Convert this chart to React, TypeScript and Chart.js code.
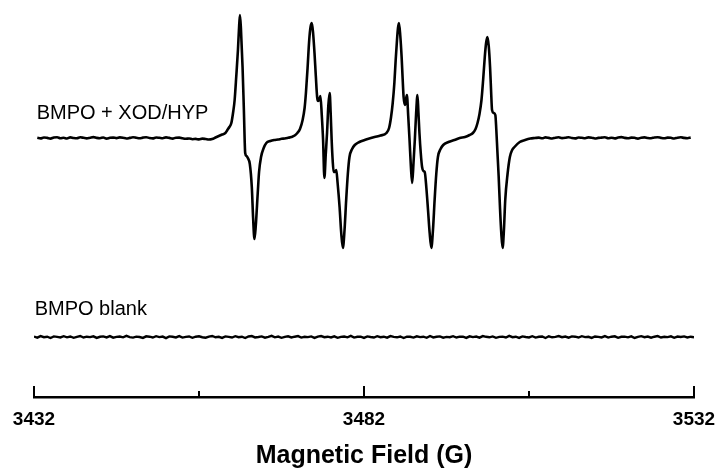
import React, { useEffect, useRef } from 'react';
import { Chart, registerables } from 'chart.js';

Chart.register(...registerables);

const FONT = 'Arial, "Liberation Sans", Helvetica, sans-serif';

// x axis ticks
const tickValues = [3432, 3457, 3482, 3507, 3532];
const tickLabels = ['3432', '', '3482', '', '3532'];
const axisTitle = 'Magnetic Field (G)';

// trace labels
const upperLabel = 'BMPO + XOD/HYP';
const blankLabel = 'BMPO blank';

// vertical stacking offsets of the two spectra (arbitrary units)
const upperOffset = 259;
const blankOffset = 60;

// ---- BMPO + XOD/HYP spectrum ----
const leftWingField = [
  3432.5, 3433, 3433.5, 3434, 3434.5, 3435, 3435.5, 3436, 3436.5, 3437,
  3437.5, 3438, 3438.5, 3439, 3439.5, 3440, 3440.5, 3441, 3441.5, 3442,
  3442.5, 3443, 3443.5, 3444, 3444.5, 3445, 3445.5, 3446, 3446.5, 3447,
  3447.5, 3448, 3448.5, 3449, 3449.5, 3450, 3450.5, 3451, 3451.5, 3452,
  3452.5, 3453, 3453.5, 3454, 3454.5, 3455, 3455.5, 3456, 3456.5, 3457,
  3457.5,
];
const leftWingSignal = [
  0.3, -0.4, 0.5, 0.1, -0.6, 0.4, 0.8, -0.2, 0.2, -0.5,
  0.6, 0.0, -0.3, 0.7, 0.2, -0.4, 0.3, 0.9, 0.1, -0.2,
  0.5, -0.6, 0.2, 0.4, -0.1, 0.6, 0.3, -0.5, 0.1, 0.7,
  0.2, -0.3, 0.4, 0.8, 0.0, -0.4, 0.5, 0.2, -0.2, 0.6,
  0.1, -0.6, 0.3, 0.4, -0.3, -0.8, -0.5, -1.2, -0.9, -1.4,
  -0.6,
];

const g1Field = [
  3458.0, 3458.5, 3459.0, 3459.5, 3460.0, 3460.5, 3461.0, 3461.3, 3461.6, 3461.9,
  3462.2, 3462.4, 3462.65, 3462.9, 3463.05, 3463.2, 3463.35, 3463.6, 3463.8, 3464.0,
  3464.2, 3464.4, 3464.7, 3465.0, 3465.2, 3465.4, 3465.6, 3465.9, 3466.1, 3466.4,
  3466.8, 3467.2, 3467.8, 3468.4, 3469.0, 3469.5, 3470.0,
];
const g1Signal = [
  -1.0, -1.5, -1.0, 0.5, 2.0, 3.5, 5.0, 8, 11, 15,
  27, 38, 62, 88, 108, 123, 110, 71, 28, -15,
  -18, -20, -26, -49, -80, -101, -88, -55, -34, -19,
  -10, -5, -3, -2, -1.5, -0.8, -0.5,
];

const g2Field = [
  3470.5, 3471.0, 3471.5, 3471.9, 3472.3, 3472.7, 3473.0, 3473.2, 3473.45, 3473.7,
  3473.9, 3474.1, 3474.3, 3474.5, 3474.7, 3474.9, 3475.05, 3475.2, 3475.4, 3475.6,
  3475.8, 3476.0, 3476.2, 3476.4, 3476.6, 3476.8, 3476.95, 3477.1, 3477.25, 3477.4,
  3477.6, 3477.8, 3478.0, 3478.3, 3478.55, 3478.8, 3479.05, 3479.3, 3479.55, 3479.8,
  3480.2, 3480.6, 3481.3, 3482.1, 3482.8,
];
const g2Signal = [
  0.2, 1.0, 2.5, 5, 9, 18, 30, 45, 70, 98,
  111, 115, 104, 85, 62, 41, 37, 38, 42, 23,
  -2, -40, -17, 5, 33, 45, 25, -2, -22, -34,
  -34, -32, -45, -69, -95, -110, -92, -62, -36, -19,
  -11, -7, -4, -2, -0.5,
];

const g3Field = [
  3483.6, 3484.5, 3485.4, 3485.8, 3486.1, 3486.35, 3486.6, 3486.8, 3487.0, 3487.15,
  3487.3, 3487.5, 3487.7, 3487.85, 3488.0, 3488.2, 3488.35, 3488.5, 3488.7, 3488.9,
  3489.1, 3489.3, 3489.5, 3489.7, 3489.9, 3490.1, 3490.25, 3490.4, 3490.6, 3490.8,
  3491.0, 3491.2, 3491.45, 3491.7, 3491.95, 3492.2, 3492.45, 3492.7, 3492.95, 3493.2,
  3493.6, 3494.0, 3494.8, 3495.7, 3496.5,
];
const g3Signal = [
  1, 2.5, 5, 10, 21, 35, 55, 78, 98, 110,
  115, 102, 81, 60, 41, 33, 38, 43, 22, -2,
  -28, -45, -25, -2, 25, 43, 25, 5, -15, -29,
  -33, -34, -50, -72, -95, -110, -92, -62, -36, -19,
  -11, -7, -4, -2, 0,
];

const g4Field = [
  3497.3, 3498.0, 3498.5, 3498.9, 3499.2, 3499.5, 3499.8, 3500.05, 3500.3, 3500.5,
  3500.7, 3500.9, 3501.1, 3501.25, 3501.4, 3501.65, 3501.9, 3502.05, 3502.2, 3502.4,
  3502.6, 3502.8, 3503.0, 3503.2, 3503.4, 3503.75, 3504.1, 3504.45, 3504.8, 3505.6,
  3506.4, 3507.2, 3507.9,
];
const g4Signal = [
  1, 3, 5, 9, 15, 24, 38, 58, 81, 95,
  101, 92, 71, 48, 28, 25, 23, 8, -12, -38,
  -69, -95, -110, -92, -62, -36, -19, -12, -9, -4,
  -2, -0.5, 0,
];

const rightWingField = [
  3508.5, 3509, 3509.5, 3510, 3510.5, 3511, 3511.5, 3512, 3512.5, 3513,
  3513.5, 3514, 3514.5, 3515, 3515.5, 3516, 3516.5, 3517, 3517.5, 3518,
  3518.5, 3519, 3519.5, 3520, 3520.5, 3521, 3521.5, 3522, 3522.5, 3523,
  3523.5, 3524, 3524.5, 3525, 3525.5, 3526, 3526.5, 3527, 3527.5, 3528,
  3528.5, 3529, 3529.5, 3530, 3530.5, 3531, 3531.5,
];
const rightWingSignal = [
  0.4, -0.3, 0.6, 0.1, -0.5, 0.3, 0.7, -0.1, 0.2, 0.8,
  0.0, -0.4, 0.5, 0.2, -0.2, 0.6, 0.3, -0.5, 0.1, 0.4,
  0.7, -0.2, 0.3, -0.4, 0.5, 0.9, 0.1, -0.3, 0.4, 0.2,
  -0.6, 0.3, 0.6, 0.0, -0.2, 0.5, 0.8, 0.1, -0.3, 0.4,
  0.2, -0.5, 0.3, 0.7, 0.1, -0.2, 0.4,
];

// ---- BMPO blank ----
const blankField = [
  3432, 3432.5, 3433, 3433.5, 3434, 3434.5, 3435, 3435.5, 3436, 3436.5,
  3437, 3437.5, 3438, 3438.5, 3439, 3439.5, 3440, 3440.5, 3441, 3441.5,
  3442, 3442.5, 3443, 3443.5, 3444, 3444.5, 3445, 3445.5, 3446, 3446.5,
  3447, 3447.5, 3448, 3448.5, 3449, 3449.5, 3450, 3450.5, 3451, 3451.5,
  3452, 3452.5, 3453, 3453.5, 3454, 3454.5, 3455, 3455.5, 3456, 3456.5,
  3457, 3457.5, 3458, 3458.5, 3459, 3459.5, 3460, 3460.5, 3461, 3461.5,
  3462, 3462.5, 3463, 3463.5, 3464, 3464.5, 3465, 3465.5, 3466, 3466.5,
  3467, 3467.5, 3468, 3468.5, 3469, 3469.5, 3470, 3470.5, 3471, 3471.5,
  3472, 3472.5, 3473, 3473.5, 3474, 3474.5, 3475, 3475.5, 3476, 3476.5,
  3477, 3477.5, 3478, 3478.5, 3479, 3479.5, 3480, 3480.5, 3481, 3481.5,
  3482, 3482.5, 3483, 3483.5, 3484, 3484.5, 3485, 3485.5, 3486, 3486.5,
  3487, 3487.5, 3488, 3488.5, 3489, 3489.5, 3490, 3490.5, 3491, 3491.5,
  3492, 3492.5, 3493, 3493.5, 3494, 3494.5, 3495, 3495.5, 3496, 3496.5,
  3497, 3497.5, 3498, 3498.5, 3499, 3499.5, 3500, 3500.5, 3501, 3501.5,
  3502, 3502.5, 3503, 3503.5, 3504, 3504.5, 3505, 3505.5, 3506, 3506.5,
  3507, 3507.5, 3508, 3508.5, 3509, 3509.5, 3510, 3510.5, 3511, 3511.5,
  3512, 3512.5, 3513, 3513.5, 3514, 3514.5, 3515, 3515.5, 3516, 3516.5,
  3517, 3517.5, 3518, 3518.5, 3519, 3519.5, 3520, 3520.5, 3521, 3521.5,
  3522, 3522.5, 3523, 3523.5, 3524, 3524.5, 3525, 3525.5, 3526, 3526.5,
  3527, 3527.5, 3528, 3528.5, 3529, 3529.5, 3530, 3530.5, 3531, 3531.5,
  3532,
];
const blankSignal = [
  0.4, -0.6, 0.9, -0.2, 0.3, -1.0, 0.6, 0.1, -0.4, 0.8,
  -0.3, 0.5, -0.8, 0.2, 1.0, -0.5, 0.3, -0.1, 0.7, -0.9,
  0.2, 0.6, -0.4, 0.9, -0.7, 0.1, 0.5, -0.3, 1.1, -0.2,
  -0.6, 0.4, 0.0, -0.9, 0.7, 0.3, -0.5, 0.8, -0.1, 0.4,
  -1.1, 0.6, 0.2, -0.4, 0.9, -0.6, 0.1, 0.5, -0.8, 0.3,
  0.7, -0.2, -0.7, 0.4, 1.0, -0.3, 0.2, -0.9, 0.6, 0.1,
  -0.5, 0.8, -0.2, 0.3, -1.0, 0.5, 0.9, -0.4, 0.0, 0.6,
  -0.7, 0.2, 1.2, -0.3, 0.4, -0.8, 0.1, 0.7, -0.5, 0.3,
  0.9, -0.6, 0.2, -0.1, 0.6, -0.9, 0.4, 1.0, -0.2, 0.3,
  -0.4, 0.7, -0.8, 0.1, 0.5, -0.3, 1.1, -0.6, 0.2, 0.4,
  -0.9, 0.6, 0.0, -0.5, 0.8, -0.2, 0.3, -0.7, 0.9, 0.1,
  -0.3, 0.5, -1.0, 0.4, 0.2, -0.6, 0.7, -0.1, 0.3, -0.8,
  1.0, -0.4, 0.2, 0.6, -0.7, 0.1, -0.2, 0.8, -0.5, 0.4,
  0.3, -0.9, 0.7, -0.1, 0.5, -0.6, 0.9, 0.2, -0.3, 0.6,
  -0.8, 0.1, 0.4, -0.5, 1.1, -0.2, 0.3, -0.9, 0.6, 0.0,
  -0.4, 0.8, -0.6, 0.2, 0.5, -1.0, 0.7, -0.3, 0.1, 0.9,
  -0.2, 0.4, -0.7, 0.6, 0.3, -0.5, 0.8, -0.1, 0.2, -0.9,
  0.5, 0.1, -0.4, 0.9, -0.6, 0.3, 0.7, -0.8, 0.2, 0.4,
  -0.3, 0.6, -1.0, 0.1, 0.8, -0.2, 0.5, -0.7, 0.3, 0.9,
  -0.5, 0.2, -0.1, 0.7, -0.8, 0.4, 0.0, 0.6, -0.4, 0.3,
  -0.2,
];

function toPoints(fields: number[], signals: number[], offset: number) {
  const n = Math.min(fields.length, signals.length);
  const pts: { x: number; y: number }[] = [];
  for (let i = 0; i < n; i++) pts.push({ x: fields[i], y: signals[i] + offset });
  return pts;
}

const insideTicksPlugin = {
  id: 'insideTicks',
  afterDraw(chart: any) {
    const xs = chart.scales.x;
    const ctx = chart.ctx;
    const yAxis = chart.chartArea.bottom;
    ctx.save();
    ctx.strokeStyle = '#000';
    ctx.lineWidth = 2;
    tickValues.forEach((v, i) => {
      const px = Math.round(xs.getPixelForValue(v));
      const len = tickLabels[i] ? 11 : 6;
      ctx.beginPath();
      ctx.moveTo(px, yAxis);
      ctx.lineTo(px, yAxis - len);
      ctx.stroke();
    });
    ctx.restore();
  },
};

const traceLabelPlugin = {
  id: 'traceLabels',
  afterDraw(chart: any) {
    const xs = chart.scales.x;
    const ys = chart.scales.y;
    const ctx = chart.ctx;
    ctx.save();
    ctx.fillStyle = '#000';
    ctx.font = `20px ${FONT}`;
    ctx.textAlign = 'left';
    ctx.textBaseline = 'alphabetic';
    ctx.fillText(upperLabel, xs.getPixelForValue(3432.4), ys.getPixelForValue(upperOffset + 19));
    ctx.fillText(blankLabel, xs.getPixelForValue(3432.1), ys.getPixelForValue(blankOffset + 22));
    ctx.restore();
  },
};

export default function App() {
  const ref = useRef<HTMLCanvasElement | null>(null);

  useEffect(() => {
    if (!ref.current) return;
    const upperField = [...leftWingField, ...g1Field, ...g2Field, ...g3Field, ...g4Field, ...rightWingField];
    const upperSignal = [...leftWingSignal, ...g1Signal, ...g2Signal, ...g3Signal, ...g4Signal, ...rightWingSignal];

    const chart = new Chart(ref.current, {
      type: 'line',
      data: {
        datasets: [
          {
            label: upperLabel,
            data: toPoints(upperField, upperSignal, upperOffset),
            borderColor: '#000',
            borderWidth: 2.6,
            pointRadius: 0,
            cubicInterpolationMode: 'monotone',
            fill: false,
          },
          {
            label: blankLabel,
            data: toPoints(blankField, blankSignal, blankOffset),
            borderColor: '#000',
            borderWidth: 2.4,
            pointRadius: 0,
            tension: 0,
            fill: false,
          },
        ],
      },
      options: {
        animation: false,
        responsive: false,
        devicePixelRatio: 1,
        layout: { padding: { left: 34, right: 23, top: 0, bottom: 0 } },
        plugins: {
          legend: { display: false },
          tooltip: { enabled: false },
          title: { display: false },
        },
        scales: {
          x: {
            type: 'linear',
            min: 3432,
            max: 3532,
            afterFit: (scale: any) => {
              scale.height = 71;
              scale.paddingLeft = 0;
              scale.paddingRight = 0;
            },
            afterBuildTicks: (scale: any) => {
              scale.ticks = tickValues.map((v) => ({ value: v }));
            },
            ticks: {
              autoSkip: false,
              maxRotation: 0,
              color: '#000',
              padding: 11,
              font: { family: FONT, size: 19, weight: 'bold' },
              callback: (value: any) => {
                const i = tickValues.indexOf(Number(value));
                return i >= 0 ? tickLabels[i] : '';
              },
            },
            grid: { display: false, drawTicks: false, drawOnChartArea: false },
            border: { display: true, color: '#000', width: 2.5 },
            title: {
              display: true,
              text: axisTitle,
              color: '#000',
              font: { family: FONT, size: 25, weight: 'bold' },
              padding: { top: 0, bottom: -3 },
            },
          },
          y: {
            type: 'linear',
            display: false,
            min: 0,
            max: 397,
          },
        },
      },
      plugins: [insideTicksPlugin, traceLabelPlugin],
    } as any);

    return () => chart.destroy();
  }, []);

  return (
    <div style={{ position: 'fixed', left: 0, top: 0, width: 717, height: 468, background: '#fff' }}>
      <canvas ref={ref} width={717} height={468} style={{ display: 'block' }} />
    </div>
  );
}
